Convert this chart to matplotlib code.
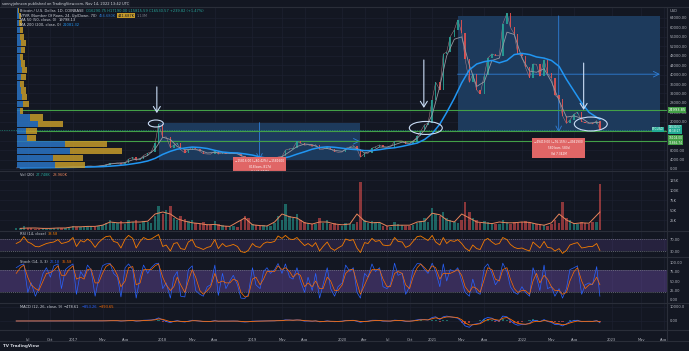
import matplotlib
matplotlib.use("Agg")
import matplotlib.pyplot as plt
from matplotlib.patches import Rectangle, Ellipse
import numpy as np
import pandas as pd

W, H = 689, 351
BG = '#131722'
TXT = '#b2b5be'
SEP = '#2a2e39'
GRID = '#1c2030'
UP, DN = '#26a69a', '#ef5350'

# ---- semi-monthly series (1st and 15th), May 2016 .. Nov 14 2022
semi_dates = list(pd.date_range('2016-05-15', '2022-11-01', freq='SMS')) + [pd.Timestamp('2022-11-14')]

close_px = [455, 530, 690, 675, 665, 600, 570, 575, 607, 615, 640, 730, 710, 750, 780,
            1000, 820, 990, 1010, 1220, 1250, 1080, 1180, 1420, 1740, 2400, 2450,
            2500, 1920, 2730, 4200, 4900, 3700, 4400, 5700, 6700, 7300, 10900, 19100,
            13400, 13600, 9100, 10100, 10900, 8200, 6800, 8000, 9200, 8500, 7500, 6500,
            6350, 6300, 7600, 6300, 7000, 6500, 6600, 6700, 6350, 5600, 4200, 3200,
            3800, 3600, 3450, 3600, 3800, 3900, 4100, 5100, 5350, 8000, 8550, 8800,
            11800, 10900, 10100, 10300, 9600, 10300, 8300, 8350, 9150, 8500, 7400, 7100,
            7200, 8800, 9350, 9900, 8550, 5000, 6600, 6650, 8800, 9400, 10200, 9450,
            9200, 9200, 11800, 11900, 11900, 10800, 10600, 11500, 13800, 16000, 18800, 19400,
            29400, 36800, 33500, 48700, 49600, 56000, 59000, 63200, 57800, 46500, 36700, 40200,
            33500, 31800, 39800, 47000, 48800, 48100, 48100, 61500, 66000, 60000, 57200, 48900,
            47700, 43100, 38700, 44500, 44400, 39300, 46300, 40500, 38500, 31300, 29800, 22600,
            19300, 20800, 23300, 24100, 20100, 19700, 19300, 19100, 20500, 16500]

volume_k = [4, 5, 9, 6, 4, 3, 3, 4, 3, 3, 4, 6, 4, 5, 6,
            10, 7, 8, 8, 10, 9, 8, 9, 12, 18, 25, 20, 18, 22, 15, 25, 20, 25, 15, 22, 20, 18, 35, 60,
            40, 50, 60, 30, 25, 35, 28, 22, 25, 18, 15, 20, 15, 12, 22, 15, 12, 10, 8, 9, 8, 25, 35, 30,
            15, 12, 10, 12, 10, 10, 18, 35, 25, 65, 35, 30, 40, 25, 20, 18, 15, 15, 30, 18, 25, 15, 18, 12,
            10, 18, 15, 15, 20, 120, 25, 18, 22, 20, 18, 10, 9, 8, 20, 15, 12, 10, 9, 12, 18, 22, 30, 20,
            55, 40, 35, 45, 30, 25, 20, 18, 25, 70, 45, 30, 25, 18, 22, 20, 18, 15, 15, 25, 20, 15, 20, 18,
            20, 22, 20, 18, 15, 15, 12, 10, 15, 25, 18, 70, 30, 25, 18, 15, 20, 18, 15, 20, 20, 115]

rsi = [55, 62, 78, 60, 55, 45, 44, 50, 55, 58, 60, 68, 55, 58, 62,
       75, 45, 65, 60, 70, 62, 42, 58, 70, 78, 80, 62, 58, 40, 70, 82, 72, 40, 62, 75, 68, 70, 78, 85,
       45, 50, 30, 55, 58, 38, 35, 60, 68, 45, 40, 35, 42, 45, 68, 38, 55, 45, 48, 52, 45, 28, 25, 32,
       55, 45, 42, 55, 60, 58, 62, 80, 72, 82, 70, 68, 75, 62, 48, 55, 45, 58, 30, 45, 60, 40, 32, 40,
       48, 70, 65, 68, 40, 25, 58, 55, 72, 62, 65, 50, 48, 50, 75, 62, 60, 42, 48, 62, 78, 80, 72, 65,
       82, 60, 50, 75, 55, 65, 62, 68, 55, 40, 30, 50, 38, 35, 65, 72, 60, 52, 55, 75, 68, 52, 42, 38,
       40, 35, 30, 60, 50, 40, 62, 42, 40, 30, 38, 22, 32, 50, 55, 58, 40, 42, 45, 45, 55, 32]

stoch_k = [85, 92, 95, 20, 45, 10, 30, 70, 85, 60, 90, 95, 30, 80, 88,
           95, 15, 75, 60, 92, 80, 10, 55, 90, 95, 96, 70, 60, 8, 85, 95, 80, 5, 60, 92, 70, 85, 95, 97,
           30, 45, 5, 60, 75, 10, 8, 80, 90, 25, 15, 10, 35, 40, 92, 12, 70, 30, 50, 65, 40, 5, 4, 15,
           85, 40, 30, 75, 85, 70, 80, 96, 70, 95, 60, 55, 85, 50, 20, 60, 25, 70, 5, 40, 85, 30, 10, 35,
           45, 92, 75, 85, 20, 5, 70, 60, 95, 75, 85, 35, 30, 40, 97, 65, 70, 15, 35, 80, 96, 95, 80, 70,
           97, 75, 35, 95, 50, 80, 75, 85, 50, 20, 10, 55, 20, 15, 85, 95, 70, 40, 55, 97, 75, 35, 20, 15,
           35, 20, 10, 85, 60, 25, 92, 30, 35, 10, 30, 5, 30, 80, 85, 90, 15, 40, 45, 40, 88, 10]

stoch_d = [70, 85, 92, 60, 40, 30, 25, 50, 70, 72, 78, 90, 65, 65, 80,
           90, 55, 60, 55, 80, 82, 45, 45, 70, 88, 95, 85, 65, 35, 50, 85, 88, 40, 45, 80, 80, 80, 90, 95,
           60, 40, 25, 35, 60, 40, 20, 50, 80, 60, 25, 15, 25, 35, 70, 45, 50, 45, 45, 55, 50, 20, 8, 10,
           55, 60, 40, 55, 75, 75, 75, 90, 80, 85, 75, 60, 70, 65, 35, 45, 35, 50, 30, 30, 60, 50, 25, 25,
           40, 70, 80, 80, 45, 15, 40, 60, 80, 80, 80, 55, 35, 35, 70, 75, 70, 40, 30, 60, 85, 95, 85, 75,
           90, 85, 55, 70, 70, 70, 75, 80, 65, 35, 20, 35, 30, 20, 55, 85, 80, 55, 50, 80, 85, 55, 30, 20,
           25, 25, 15, 50, 70, 45, 65, 55, 35, 25, 25, 15, 20, 50, 75, 85, 50, 30, 40, 42, 60, 40]

macd_line = [10, 20, 60, 40, 10, -10, -15, -5, 5, 8, 15, 30, 20, 25, 30,
             60, 20, 40, 50, 90, 60, -20, 30, 90, 180, 300, 250, 200, -60, 150, 400, 350, -100, 150, 500, 600, 700, 1200, 2200,
             800, -300, -1200, -200, 300, -400, -700, -100, 500, 200, -200, -400, -300, -300, 300, -200, -100, -150, -50, 0, -100, -500, -700, -500,
             -100, -50, -30, 20, 80, 60, 100, 400, 300, 800, 700, 500, 800, 600, -100, 0, -200, 100, -600, -400, 100, -300, -500, -300,
             -100, 400, 400, 500, -200, -900, -300, -100, 500, 500, 400, -100, -150, -100, 600, 400, 200, -300, -200, 200, 800, 1200, 1000, 700,
             2500, 3000, 1000, 3000, 3500, 3000, 2500, 2000, -500, -3500, -4500, -2500, -2000, -1500, 1500, 2500, 2000, 500, 0, 3500, 3000, 200, -2000, -3000,
             -2500, -2500, -1500, 500, 300, -500, 1000, -300, -1000, -2500, -2500, -3500, -2000, -500, 300, 500, -500, -300, -200, -300, 300, -1200]

macd_signal = [5, 10, 30, 40, 30, 15, 0, -5, 0, 3, 8, 18, 20, 22, 25,
               40, 32, 35, 40, 60, 60, 30, 30, 55, 110, 200, 230, 220, 80, 110, 250, 300, 120, 130, 320, 460, 580, 850, 1500,
               1200, 400, -500, -400, -50, -200, -450, -300, 200, 200, 0, -250, -280, -290, 0, -100, -100, -120, -80, -40, -70, -300, -500, -500,
               -300, -170, -100, -40, 30, 50, 80, 250, 280, 550, 620, 560, 680, 640, 250, 120, -50, 20, -300, -350, -120, -200, -350, -330,
               -200, 150, 280, 400, 100, -400, -350, -220, 150, 330, 370, 130, 0, -50, 280, 340, 270, -20, -110, 50, 420, 800, 900, 800,
               1600, 2300, 1600, 2300, 2900, 2950, 2700, 2350, 900, -1300, -2900, -2700, -2350, -1900, -200, 1100, 1550, 1000, 500, 2000, 2500, 1300, -400, -1700,
               -2100, -2300, -1900, -700, -200, -350, 300, 0, -500, -1500, -2000, -2700, -2300, -1400, -550, 0, -250, -280, -240, -270, 0, -600]

# ---- monthly series (moving averages)
month_dates = list(pd.date_range('2016-06-01', '2022-10-01', freq='MS')) + [pd.Timestamp('2022-11-14')]
ma50 = [460, 620, 620, 590, 615, 690, 750,
        880, 950, 1150, 1150, 1400, 2100, 2500, 2700, 3900, 4300, 5800, 8500,
        13500, 12500, 9500, 8200, 8300, 8000, 6800, 7000, 6800, 6700, 6500, 5000,
        3900, 3650, 3750, 4000, 5200, 7300, 9500, 10600, 10300, 9000, 8700, 7900,
        7500, 9000, 8800, 6800, 7600, 9300, 9300, 10300, 11400, 10900, 13000, 16500,
        23000, 35000, 48000, 55000, 56000, 44000, 35000, 37000, 46000, 47000, 58000, 57000,
        47000, 41500, 41000, 42500, 37000, 29000, 22000, 22500, 21500, 19500, 19798]
ma200 = [450, 480, 510, 540, 570, 600, 640,
         690, 750, 820, 900, 1000, 1200, 1450, 1750, 2200, 2700, 3400, 4500,
         6200, 7500, 8400, 8900, 9300, 9100, 8700, 7900, 7200, 6900, 6800, 6400,
         5900, 5100, 4600, 4200, 4500, 5200, 6300, 7300, 8400, 9100, 9400, 9200,
         8800, 8400, 8200, 7800, 7800, 8200, 8700, 9000, 9600, 10300, 11000, 12500,
         15000, 19000, 24000, 30000, 36500, 42000, 44500, 45500, 46000, 45000, 46000, 48500,
         49000, 48500, 47500, 47000, 46000, 43500, 38000, 33000, 28000, 24000, 21081]
vol_ma = [4, 5, 5, 4, 4, 5, 5,
          8, 8, 9, 9, 12, 20, 18, 18, 20, 20, 22, 40,
          45, 40, 28, 22, 18, 16, 13, 14, 10, 9, 20, 30,
          13, 11, 10, 20, 40, 33, 30, 18, 15, 20, 20, 15,
          13, 15, 40, 22, 18, 19, 10, 12, 12, 12, 20, 22,
          42, 38, 25, 20, 40, 30, 20, 18, 16, 20, 18, 18,
          20, 19, 15, 12, 18, 40, 25, 16, 18, 17, 45]

# ---- visible range volume profile (24 rows, bottom -> top), thousands
vp_low, vp_high = 400, 69000
vp_up = [38, 36, 53, 48, 10, 9, 21, 13, 3, 6, 5, 4, 3, 4, 5, 4, 3, 4, 4, 3, 3, 2, 2, 1]
vp_down = [30, 30, 52, 42, 9, 11, 25, 13, 3, 6, 5, 5, 4, 5, 5, 4, 3, 4, 5, 4, 3, 3, 2, 1]

# ---- drawn levels / tools
levels = [25000, 16100, 11870]
level_tags = ['24993.85', '16104.00', '11866.74']
last_price = 16530
range_left = ('2017-12-17', '2020-03-13', 19666, 3850)
range_right = ('2021-04-14', '2023-07-16', 64895, 15476)
range_left_txt = '−15816.00 (−80.42%) −1581600\n818 bars, 817d\nVol 11.271M'
range_right_txt = '−49419.00 (−76.15%) −4941900\n580 bars, 580d\nVol 7.342M'

time_ticks = ['2016-07-01', '2016-10-01', '2017-01-01', '2017-05-01', '2017-08-01', '2018-01-01',
              '2018-05-01', '2018-08-01', '2019-01-01', '2019-05-01', '2019-08-01', '2020-01-01',
              '2020-04-01', '2020-07-01', '2020-10-01', '2021-01-01', '2021-05-01', '2021-08-01',
              '2022-01-01', '2022-05-01', '2022-08-01', '2023-01-01', '2023-05-01', '2023-08-01']
time_labels = ['Jul', 'Oct', '2017', 'May', 'Aug', '2018', 'May', 'Aug', '2019', 'May', 'Aug', '2020',
               'Apr', 'Jul', 'Oct', '2021', 'May', 'Aug', '2022', 'May', 'Aug', '2023', 'May', 'Aug']

fig = plt.figure(figsize=(W / 100, H / 100), dpi=100, facecolor=BG)


def px_axes(x0, y0, x1, y1):
    a = fig.add_axes([x0 / W, 1 - y1 / H, (x1 - x0) / W, (y1 - y0) / H])
    a.set_facecolor(BG)
    for s in a.spines.values():
        s.set_visible(False)
    return a


d2017 = pd.Timestamp('2017-01-01')
xl = (d2017 - pd.Timedelta(days=296.9), d2017 + pd.Timedelta(days=2416))
FS = 2.6

def style_pane(a, yt, ylab):
    a.set_xlim(*xl)
    a.set_xticks(pd.to_datetime(time_ticks))
    a.set_xticklabels([])
    a.tick_params(axis='x', length=0)
    a.yaxis.tick_right()
    a.set_yticks(yt)
    a.set_yticklabels(ylab, fontsize=FS, color=TXT)
    a.tick_params(axis='y', length=0, pad=2.2)
    a.grid(True, color=GRID, lw=0.5)
    a.set_axisbelow(True)


dates = pd.to_datetime(semi_dates)
closes = np.array(close_px, dtype=float)
opens = np.r_[closes[0], closes[:-1]]
bar_cols = [UP if c >= o else DN for o, c in zip(opens, closes)]

# ---------------- main price pane
ax = px_axes(0, 7, 667, 171)
ax.set_ylim(-848, 68662)
ticks = list(range(0, 64001, 4000))
# 12000 and 16000 sit under the level tags on the scale
style_pane(ax, ticks, ['' if t in (12000, 16000) else f'{t:.2f}' for t in ticks])

for (d0, d1, p0, p1) in [range_left, range_right]:
    t0, t1 = pd.Timestamp(d0), pd.Timestamp(d1)
    ax.add_patch(Rectangle((t0, p1), t1 - t0, p0 - p1, facecolor='#1d3a5c', edgecolor='none', zorder=1))
    mid_t = t0 + (t1 - t0) / 2
    mid_p = (p0 + p1) / 2
    ax.annotate('', xy=(t1, mid_p), xytext=(t0, mid_p),
                arrowprops=dict(arrowstyle='->', color='#2f7fd8', lw=0.6, shrinkA=0, shrinkB=0), zorder=2)
    ax.annotate('', xy=(mid_t, p1), xytext=(mid_t, p0),
                arrowprops=dict(arrowstyle='->', color='#2f7fd8', lw=0.6, shrinkA=0, shrinkB=0), zorder=2)

for lv in levels:
    ax.axhline(lv, xmin=17 / 667, color='#43a047', lw=0.8, zorder=2)
ax.axhline(last_price, color='#22ab94', lw=0.5, ls=(0, (1, 1.5)), zorder=2)

ax.bar(dates, np.abs(closes - opens), bottom=np.minimum(opens, closes), width=6,
       color=bar_cols, linewidth=0, alpha=0.85, zorder=4)
ax.plot(dates, closes, color='#b07f88', lw=0.35, zorder=3)
ax.plot(pd.to_datetime(month_dates), ma50, color='#9598a1', lw=0.6, zorder=5)
ax.plot(pd.to_datetime(month_dates), ma200, color='#2196f3', lw=1.1, zorder=5)

# range info labels
for (d0, d1, p0, p1), txt, ytxt in [(range_left, range_left_txt, 4300), (range_right, range_right_txt, 12300)]:
    t0, t1 = pd.Timestamp(d0), pd.Timestamp(d1)
    ax.text(t0 + (t1 - t0) / 2, ytxt, txt, fontsize=2.1, color='white', ha='center', va='top',
            linespacing=1.6, zorder=8,
            bbox=dict(boxstyle='square,pad=0.8', facecolor='#e06666', edgecolor='none'))

# hand drawn marks
BRUSH = '#c9dcf5'
for t, ptop, pbot in [('2017-12-08', 34800, 23700), ('2020-11-28', 46200, 25900), ('2022-09-09', 44900, 25000)]:
    ax.annotate('', xy=(pd.Timestamp(t), pbot), xytext=(pd.Timestamp(t), ptop),
                arrowprops=dict(arrowstyle='->,head_width=0.25,head_length=0.4', color=BRUSH, lw=0.8,
                                shrinkA=0, shrinkB=0), zorder=9)
for t, p, wd, hp in [('2017-12-04', 19280, 61, 2970), ('2020-12-06', 17400, 134, 5500), ('2022-10-08', 19070, 134, 5900)]:
    c = pd.Timestamp(t)
    ax.add_patch(Ellipse((matplotlib.dates.date2num(c), p), wd, hp, facecolor='none',
                         edgecolor=BRUSH, lw=0.8, zorder=9))

# volume profile overlay
axv = px_axes(17, 7, 667, 171)
axv.patch.set_alpha(0)
axv.set_ylim(-848, 68662)
axv.set_xlim(0, 650)
axv.set_xticks([]); axv.set_yticks([])
row_h = (vp_high - vp_low) / len(vp_up)
rows = vp_low + row_h * (np.arange(len(vp_up)) + 0.5)
axv.barh(rows, vp_up, height=row_h * 0.9, color='#2a74c4', alpha=0.85, zorder=3)
axv.barh(rows, vp_down, left=vp_up, height=row_h * 0.9, color='#c49a2a', alpha=0.85, zorder=3)

# axis tags
def tag(y, txt, col, x=668.5, tc='white', size=FS):
    fig.text(x / W, 1 - y / H, txt, fontsize=size, color=tc, ha='left', va='center', zorder=20,
             linespacing=1.0,
             bbox=dict(boxstyle='square,pad=0.15', facecolor=col, edgecolor='none'))

tag(110, level_tags[0], '#43a047')
tag(129.5, '16530.57\n00:18:17', '#22ab94', size=2.0)
tag(137.6, level_tags[1], '#43a047', size=2.1)
tag(142.8, level_tags[2], '#43a047', size=2.1)
tag(129.5, 'BTCUSD', '#22ab94', x=652, size=2.1)
fig.text(670 / W, 1 - 11 / H, 'USD', fontsize=FS, color=TXT, va='center')

# ---------------- volume pane
axvol = px_axes(0, 171, 667, 231)
axvol.set_ylim(-2.5, 147.5)
style_pane(axvol, [25, 50, 75, 100, 125], ['25K', '50K', '75K', '100K', '125K'])
axvol.bar(dates, volume_k, width=10, color=bar_cols, alpha=0.55, linewidth=0)
axvol.plot(pd.to_datetime(month_dates), vol_ma, color='#e8845b', lw=0.7)

# ---------------- RSI pane
axr = px_axes(0, 231, 667, 257)
axr.set_ylim(10, 96.7)
style_pane(axr, [70, 30], ['70.00', '30.00'])
axr.grid(False, axis='y')
axr.axhspan(30, 70, color='#7e57c2', alpha=0.18, lw=0)
for lv in (70, 30):
    axr.axhline(lv, color='#787b86', lw=0.5, ls=(0, (1.5, 1.5)))
axr.plot(dates, rsi, color='#f57c00', lw=0.6)

# ---------------- Stoch pane
axs = px_axes(0, 257, 667, 303)
axs.set_ylim(-7.9, 113.2)
style_pane(axs, [0, 25, 50, 75, 100], ['0.00', '25.00', '50.00', '75.00', '100.00'])
axs.grid(False, axis='y')
axs.axhspan(20, 80, color='#7e57c2', alpha=0.35, lw=0)
for lv in (80, 20):
    axs.axhline(lv, color='#787b86', lw=0.5, ls=(0, (1.5, 1.5)))
axs.plot(dates, stoch_k, color='#2962ff', lw=0.5)
axs.plot(dates, stoch_d, color='#ff6d00', lw=0.5)

# ---------------- MACD pane
axm = px_axes(0, 303, 667, 330)
axm.set_ylim(-6429, 12857)
style_pane(axm, [0, 10000], ['0.00', '10000.0'])
hist = np.array(macd_line) - np.array(macd_signal)
axm.bar(dates, hist, width=9, color=[UP if h >= 0 else DN for h in hist], alpha=0.6, linewidth=0)
axm.plot(dates, macd_line, color='#2962ff', lw=0.6)
axm.plot(dates, macd_signal, color='#ff6d00', lw=0.6)
axm.set_xticklabels(time_labels, fontsize=FS, color=TXT)
axm.tick_params(axis='x', pad=5.5)

# separators
for y in (7, 171, 231, 257, 303, 330, 341):
    fig.add_artist(plt.Line2D([0, 1], [1 - y / H, 1 - y / H], color=SEP, lw=0.8))
fig.add_artist(plt.Line2D([667 / W, 667 / W], [1 - 341 / H, 1 - 7 / H], color=SEP, lw=0.8))

# ---------------- legends
renderer = fig.canvas.get_renderer()

def chain(x, y, parts, size=FS):
    for s, c, bg in parts:
        kw = {}
        if bg:
            kw['bbox'] = dict(boxstyle='square,pad=0.15', facecolor=bg, edgecolor='none')
        t = fig.text(x / W, 1 - y / H, s, color=c, fontsize=size, va='center', ha='left', **kw)
        x += t.get_window_extent(renderer).width + 2

fig.text(2 / W, 1 - 3.5 / H, 'sonnyjohnson published on TradingView.com, Nov 14, 2022 13:42 UTC',
         fontsize=FS, color='#d1d4dc', va='center',
         bbox=dict(boxstyle='square,pad=0.3', facecolor='#1e222d', edgecolor='none'))
chain(20, 11, [('Bitcoin / U.S. Dollar, 1D, COINBASE', '#d1d4dc', None),
               ('O16290.75 H17190.00 L15815.59 C16530.57 +239.82 (+1.47%)', UP, None)])
chain(20, 15.7, [('VPVR (Number Of Rows, 24, Up/Down, 70)', '#d1d4dc', None),
                 ('456.680K', '#2a74c4', None), ('441.687K', '#131722', '#c49a2a'), ('1.13M', '#787b86', None)])
chain(20, 20.4, [('MA 50 (50, close, 0)', '#d1d4dc', None), ('19798.13', '#d1d4dc', None)])
chain(20, 25, [('MA 200 (200, close, 0)', '#d1d4dc', None), ('21081.32', '#2196f3', None)])
chain(20, 175, [('Vol (20)', '#d1d4dc', None), ('27.748K', UP, None), ('28.960K', '#e8845b', None)])
chain(20, 234, [('RSI (14, close)', '#d1d4dc', None), ('38.58', '#f57c00', None)])
chain(20, 262, [('Stoch (14, 3, 3)', '#d1d4dc', None), ('26.18', '#2962ff', None), ('35.58', '#ff6d00', None)])
chain(20, 307, [('MACD (12, 26, close, 9)', '#d1d4dc', None), ('−478.61', '#d1d4dc', None),
                ('−853.26', '#2962ff', None), ('−393.65', '#ff6d00', None)])

fig.text(3 / W, 1 - 346 / H, 'TV TradingView', fontsize=3.0, color='#d1d4dc', fontweight='bold', va='center')

fig.savefig('out.png', dpi=100, facecolor=BG)
